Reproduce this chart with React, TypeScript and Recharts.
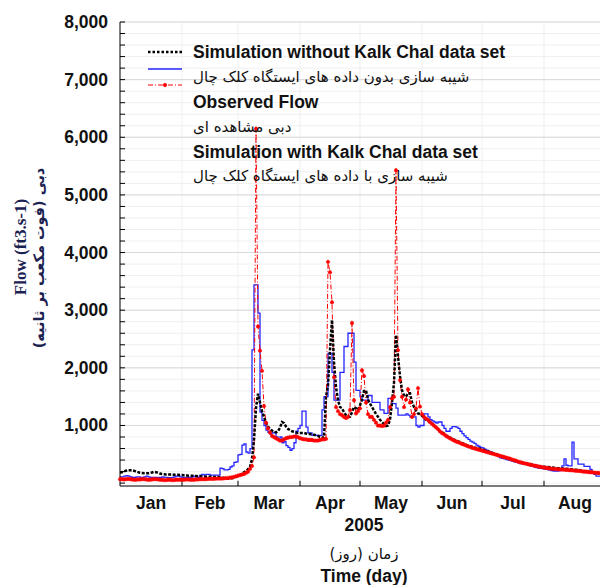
import React from "react";
import {
  LineChart,
  Line,
  XAxis,
  YAxis,
  CartesianGrid,
  ReferenceLine,
  Legend,
} from "recharts";

// daily flow, 1 Jan 2005 (day 0) to 29 Aug 2005 (day 240), ft3/s
const simWithoutKalk = [
  185, 190, 200, 215, 225, 225, 225, 215, 200, 190,
  180, 175, 170, 170, 170, 175, 185, 195, 190, 180,
  165, 160, 155, 150, 150, 150, 150, 145, 145, 145,
  140, 140, 135, 135, 130, 130, 130, 125, 125, 120,
  120, 115, 115, 110, 110, 110, 110, 105, 105, 105,
  100, 95, 90, 85, 80, 80, 85, 95, 110, 130,
  140, 160, 190, 210, 240, 280, 420, 750, 1300, 1550,
  1400, 1250, 1150, 1050, 980, 940, 910, 890, 880, 900,
  960, 1060, 1040, 980, 940, 920, 900, 890, 880, 870,
  870, 870, 870, 860, 850, 850, 840, 840, 830, 820,
  800, 790, 790, 1500, 1700, 2310, 2830, 2100, 1670, 1440,
  1320, 1300, 1230, 1180, 1150, 1150, 1230, 1320, 1300, 1270,
  1350, 1450, 1600, 1610, 1450, 1380, 1320, 1260, 1200, 1150,
  1100, 1060, 1020, 990, 1000, 1100, 1400, 1740, 2570, 2200,
  1860, 1610, 1520, 1500, 1560, 1560, 1400, 1320, 1260, 1210,
  1200, 1170, 1140, 1100, 1080, 1060, 1030, 1000, 970, 940,
  900, 880, 860, 830, 810, 790, 770, 755, 740, 725,
  710, 695, 680, 665, 650, 640, 630, 620, 610, 600,
  595, 585, 575, 560, 550, 540, 525, 510, 500, 485,
  470, 460, 450, 440, 430, 420, 410, 395, 385, 370,
  360, 355, 350, 340, 335, 330, 320, 315, 305, 300,
  295, 290, 285, 280, 280, 275, 270, 265, 260, 260,
  255, 255, 250, 250, 245, 240, 240, 235, 230, 225,
  220, 215, 210, 205, 200, 195, 190, 180, 175, 170,
  165,
];

const observedFlow = [
  110, 110, 120, 130, 120, 110, 100, 100, 110, 110,
  100, 100, 110, 120, 110, 100, 100, 100, 100, 100,
  100, 110, 100, 100, 95, 95, 100, 110, 120, 120,
  110, 100, 100, 100, 100, 100, 110, 120, 110, 100,
  140, 150, 140, 150, 150, 140, 140, 140, 140, 140,
  260, 250, 230, 230, 240, 280, 300, 360, 370, 490,
  500, 660, 680, 540, 520, 600, 2310, 3440, 3440, 2950,
  1230, 1090, 1000, 920, 880, 850, 870, 880, 800, 760,
  800, 700, 720, 650, 620, 570, 600, 700, 900, 950,
  1000, 1250, 1250, 970, 870, 870, 830, 830, 830, 830,
  830, 1270, 1500, 1500, 2250, 2250, 1920, 1440, 1440, 1440,
  1920, 1920, 2370, 2370, 2600, 2600, 2600, 2100, 1610, 1610,
  1500, 1440, 1440, 1400, 1520, 1520, 1400, 1400, 1400, 1400,
  1270, 1270, 1210, 1210, 1470, 1470, 1380, 1380, 1300, 1180,
  1180, 1180, 1180, 1200, 1180, 1150, 1150, 1150, 1000, 970,
  1000, 1000, 1200, 1200, 1150, 1100, 1080, 1060, 1040, 1060,
  1060, 1000, 950, 900, 900, 950, 980, 980, 970, 950,
  900, 860, 820, 790, 760, 730, 710, 690, 660, 640,
  620, 610, 590, 570, 550, 540, 520, 500, 480, 460,
  440, 430, 420, 410, 400, 390, 380, 370, 360, 350,
  340, 335, 330, 320, 310, 300, 290, 280, 270, 260,
  255, 250, 245, 240, 230, 220, 215, 210, 210, 215,
  230, 300, 420, 310, 300, 300, 710, 420, 420, 330,
  330, 330, 290, 290, 290, 240, 200, 150, 120, 120,
  120,
];

const simWithKalk = [
  70, 70, 65, 70, 75, 70, 65, 60, 60, 65,
  65, 70, 70, 65, 60, 60, 65, 70, 70, 65,
  60, 60, 55, 55, 60, 60, 55, 55, 60, 60,
  60, 60, 60, 65, 65, 60, 60, 60, 65, 65,
  70, 70, 70, 70, 75, 75, 75, 75, 80, 80,
  80, 80, 85, 90, 90, 95, 100, 110, 120, 130,
  140, 150, 160, 180, 200, 250, 300, 450, 6150, 2720,
  2300, 1950, 1340, 1050, 950, 880, 820, 800, 780, 760,
  740, 740, 760, 780, 790, 800, 800, 810, 810, 800,
  780, 770, 760, 760, 750, 750, 750, 740, 740, 740,
  750, 760, 760, 770, 3840, 3660, 3140, 1840, 1320, 1250,
  1200, 1180, 1150, 1130, 1150, 1270, 2780, 1440, 1210, 1250,
  1300, 1960, 1860, 1400, 1200, 1150, 1150, 1100, 1050, 1000,
  1000, 990, 1000, 1050, 1100, 1320, 1470, 1500, 5430, 2310,
  1790, 1500, 1320, 1450, 1630, 1400, 1150, 1200, 1300, 1650,
  1330, 1200, 1150, 1120, 1100, 1060, 1030, 1000, 970, 940,
  900, 870, 850, 820, 800, 780, 760, 740, 725, 710,
  700, 680, 670, 655, 640, 630, 615, 605, 595, 585,
  575, 565, 555, 545, 535, 525, 515, 505, 495, 485,
  475, 465, 455, 445, 435, 425, 410, 400, 390, 375,
  365, 355, 345, 340, 330, 320, 315, 305, 300, 290,
  285, 280, 270, 265, 260, 255, 250, 250, 245, 240,
  240, 235, 235, 230, 230, 225, 225, 220, 215, 215,
  210, 205, 200, 200, 195, 190, 190, 185, 180, 180,
  175,
];

const monthNames = ["Jan", "Feb", "Mar", "Apr", "May", "Jun", "Jul", "Aug"];
const monthMidDays = [15.5, 45, 74.5, 105, 135.5, 166, 196.5, 227.5];
const monthStartDays = [31, 59, 90, 120, 151, 181, 212];
const yTicks = [
  0, 200, 400, 600, 800, 1000, 1200, 1400, 1600, 1800, 2000, 2200, 2400, 2600,
  2800, 3000, 3200, 3400, 3600, 3800, 4000, 4200, 4400, 4600, 4800, 5000, 5200,
  5400, 5600, 5800, 6000, 6200, 6400, 6600, 6800, 7000, 7200, 7400, 7600, 7800,
  8000,
];
const yMajor = [1000, 2000, 3000, 4000, 5000, 6000, 7000, 8000];

const data = simWithoutKalk.map((v, day) => ({
  day,
  simWithout: v,
  observed: observedFlow[day],
  simWith: simWithKalk[day],
}));

const SANS = '"Liberation Sans", Arial, sans-serif';
const ARABIC = '"DejaVu Sans", sans-serif';
const INK = "#111";
const BIG = 17.5;

function YTick(props: any) {
  const { x, y, payload } = props;
  const v = payload.value;
  const axisX = x + 12;
  return (
    <g>
      <line x1={axisX} x2={axisX + 5} y1={y} y2={y} stroke="#000" />
      {v > 0 && v % 1000 === 0 && (
        <text x={x} y={y} dy={6} textAnchor="end" fontFamily={SANS}
          fontSize={BIG} fontWeight="bold" fill={INK}>
          {v.toLocaleString("en-US")}
        </text>
      )}
    </g>
  );
}

function YTitle(props: any) {
  const { y, height } = props.viewBox;
  const cy = y + height / 2;
  return (
    <g fill="#1b2150" fontWeight="bold">
      <text x={20} y={cy - 7} transform={`rotate(-90 20 ${cy - 7})`}
        textAnchor="middle" dominantBaseline="central"
        fontFamily='"Liberation Serif", "Times New Roman", serif' fontSize={17}>
        Flow (ft3.s-1)
      </text>
      <text x={39} y={cy + 4} transform={`rotate(-90 39 ${cy + 4})`}
        textAnchor="middle" dominantBaseline="central"
        fontFamily={ARABIC} fontSize={14.5}>
        دبی (فوت مکعب بر ثانیه)
      </text>
    </g>
  );
}

function XTitle(props: any) {
  const { x, y, width } = props.viewBox;
  const cx = x + width / 2 + 4;
  return (
    <g fill={INK} textAnchor="middle">
      <text x={cx} y={y + 45} fontFamily={SANS} fontSize={BIG} fontWeight="bold">2005</text>
      <text x={cx} y={y + 73} fontFamily={ARABIC} fontSize={15}>زمان (روز)</text>
      <text x={cx} y={y + 96} fontFamily={SANS} fontSize={BIG} fontWeight="bold">Time (day)</text>
    </g>
  );
}

function LegendBox() {
  const tx = 193;
  return (
    <svg width={600} height={200} style={{ display: "block" }}>
      <line x1={148} x2={182} y1={52} y2={52} stroke="#000" strokeWidth={2.5} strokeDasharray="2.5 2" />
      <line x1={148} x2={182} y1={69} y2={69} stroke="#2424ff" strokeWidth={1.3} />
      <line x1={148} x2={182} y1={85} y2={85} stroke="#ff0000" strokeWidth={1} strokeDasharray="5 2 1 2" />
      <circle cx={165} cy={85} r={2} fill="#ff0000" />
      <g fill={INK}>
        <text x={tx} y={58} fontFamily={SANS} fontSize={BIG} fontWeight="bold">Simulation without Kalk Chal data set</text>
        <text x={tx} y={82} fontFamily={ARABIC} fontSize={15}>شیبه سازی بدون داده های ایستگاه کلک چال</text>
        <text x={tx} y={108} fontFamily={SANS} fontSize={BIG} fontWeight="bold">Observed Flow</text>
        <text x={tx} y={132} fontFamily={ARABIC} fontSize={15}>دبی مشاهده ای</text>
        <text x={tx} y={158} fontFamily={SANS} fontSize={BIG} fontWeight="bold">Simulation with Kalk Chal data set</text>
        <text x={tx} y={181} fontFamily={ARABIC} fontSize={15}>شیبه سازی با داده های ایستگاه کلک چال</text>
      </g>
    </svg>
  );
}

export default function App() {
  return (
    <div style={{ position: "absolute", left: 0, top: 0, width: 600, height: 585, background: "#fff" }}>
      <LineChart width={600} height={585} data={data}
        margin={{ top: 22, right: 0, bottom: 0, left: 0 }}>
        <CartesianGrid stroke="#efefef" verticalValues={monthStartDays} />
        <CartesianGrid stroke="#d9d9d9" vertical={false} horizontalValues={yMajor} />
        <XAxis
          dataKey="day"
          type="number"
          domain={[0, 240]}
          ticks={monthMidDays}
          interval={0}
          tickFormatter={(_v: number, i: number) => monthNames[i]}
          tickLine={false}
          tickSize={0}
          tickMargin={11}
          axisLine={{ stroke: "#000" }}
          height={99}
          tick={{ fontFamily: SANS, fontSize: BIG, fontWeight: "bold", fill: INK }}
          label={{ content: XTitle }}
        />
        <YAxis
          type="number"
          domain={[-50, 8000]}
          ticks={yTicks}
          interval={0}
          width={120}
          tickLine={false}
          tickSize={0}
          tickMargin={12}
          axisLine={{ stroke: "#000" }}
          tick={YTick}
          label={{ content: YTitle }}
        />
        {monthStartDays.map((d) => (
          <ReferenceLine key={d} segment={[{ x: d, y: -50 }, { x: d, y: 40 }]} stroke="#000" />
        ))}
        <Legend
          layout="vertical"
          align="center"
          verticalAlign="middle"
          content={() => <LegendBox />}
          wrapperStyle={{ position: "absolute", left: 0, top: 0, width: 600, height: 200, pointerEvents: "none" }}
        />
        <Line dataKey="observed" type="stepAfter" stroke="#2424ff" strokeWidth={1.3}
          dot={false} activeDot={false} isAnimationActive={false} />
        <Line dataKey="simWith" type="linear" stroke="#ff0000" strokeWidth={1}
          strokeDasharray="5 2 1 2"
          dot={{ r: 1.8, fill: "#ff0000", stroke: "#ff0000", strokeWidth: 0.6 }}
          activeDot={false} isAnimationActive={false} />
        <Line dataKey="simWithout" type="linear" stroke="#000" strokeWidth={2.5}
          strokeDasharray="3 1.5" dot={false} activeDot={false} isAnimationActive={false} />
      </LineChart>
    </div>
  );
}
